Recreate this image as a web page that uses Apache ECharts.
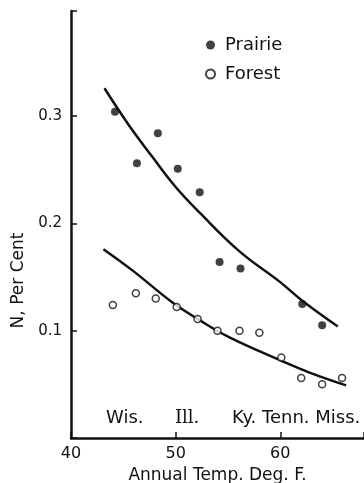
<!DOCTYPE html>
<html><head><meta charset="utf-8">
<script src="https://cdn.jsdelivr.net/npm/echarts@6/dist/echarts.min.js"></script>
<style>html,body{margin:0;padding:0;background:#fff}#c{width:364px;height:483px}</style>
</head><body><div id="c"></div>
<script>
// Data
const prairieTemp = [44.2, 46.3, 48.3, 50.2, 52.3, 54.2, 56.2, 62.1, 64.0];
const prairieN    = [0.304, 0.256, 0.284, 0.251, 0.229, 0.164, 0.158, 0.125, 0.105];
const forestTemp  = [44.0, 46.2, 48.1, 50.1, 52.1, 54.0, 56.1, 58.0, 60.1, 62.0, 64.0, 65.9];
const forestN     = [0.124, 0.135, 0.130, 0.122, 0.111, 0.100, 0.100, 0.098, 0.075, 0.056, 0.050, 0.056];
// Fitted curves as drawn
const prairieCurveT = [43.2, 45.5, 47.7, 50.0, 52.3, 56.1, 59.9, 62.1, 65.5];
const prairieCurveN = [0.326, 0.292, 0.263, 0.234, 0.210, 0.174, 0.146, 0.128, 0.104];
const forestCurveT  = [43.1, 45.9, 49.6, 52.1, 55.1, 60.1, 62.8, 66.3];
const forestCurveN  = [0.176, 0.156, 0.127, 0.111, 0.094, 0.072, 0.061, 0.049];
const xTicks = [40, 50, 60];
const yTicks = [0.1, 0.2, 0.3];
const stateLabels = ['Wis.', 'Ill.', 'Ky. Tenn. Miss.'];

const zip = (a, b) => a.map((v, i) => [v, b[i]]);
const FONT = 'DejaVu Sans';
const INK = '#111';

const chart = echarts.init(document.getElementById('c'), null, {renderer: 'canvas'});
chart.setOption({
  animation: false,
  backgroundColor: '#fff',
  grid: {left: 71, right: 0, top: 11, bottom: 45, containLabel: false, outerBoundsMode: 'none'},
  xAxis: {
    type: 'value', min: 40, max: 68, interval: 10,
    axisLine: {show: true, lineStyle: {color: INK, width: 2.5}},
    axisTick: {show: true, inside: true, length: 6, lineStyle: {color: INK, width: 1.5}},
    axisLabel: {customValues: xTicks, color: INK, fontFamily: FONT, fontSize: 16, margin: 8},
    splitLine: {show: false},
    name: 'Annual Temp. Deg. F.', nameLocation: 'middle', nameGap: 25,
    nameTextStyle: {color: INK, fontFamily: FONT, fontSize: 17}
  },
  yAxis: {
    type: 'value', min: 0, max: 0.398, interval: 0.1,
    axisLine: {show: true, lineStyle: {color: INK, width: 2.5}},
    axisTick: {show: true, inside: true, length: 6, lineStyle: {color: INK, width: 1.5}},
    axisLabel: {customValues: yTicks, color: INK, fontFamily: FONT, fontSize: 15, margin: 9,
      formatter: v => v.toFixed(1)},
    splitLine: {show: false},
    name: 'N, Per Cent', nameLocation: 'middle', nameGap: 42, nameRotate: 90,
    nameTextStyle: {color: INK, fontFamily: FONT, fontSize: 17, padding: [0, 0, 0, -112]}
  },
  legend: {
    data: ['Prairie', 'Forest'], orient: 'vertical', left: 200, top: 31, itemGap: 11,
    itemWidth: 9, itemHeight: 9, icon: 'circle',
    textStyle: {color: INK, fontFamily: FONT, fontSize: 18, padding: [0, 0, 0, 5]}
  },
  series: [
    {name: 'Prairie curve', type: 'line', data: zip(prairieCurveT, prairieCurveN), smooth: 0.4,
      showSymbol: false, lineStyle: {color: INK, width: 2.5}, z: 2},
    {name: 'Forest curve', type: 'line', data: zip(forestCurveT, forestCurveN), smooth: 0.4,
      showSymbol: false, lineStyle: {color: INK, width: 2.5}, z: 2},
    {name: 'Prairie', type: 'scatter', data: zip(prairieTemp, prairieN), symbol: 'circle', symbolSize: 8,
      itemStyle: {color: INK}, z: 3},
    {name: 'Forest', type: 'scatter', data: zip(forestTemp, forestN), symbol: 'circle', symbolSize: 7,
      itemStyle: {color: '#fff', borderColor: INK, borderWidth: 1.5}, z: 3}
  ],
  graphic: [
    {type: 'text', left: 106, top: 409, style: {text: stateLabels[0], font: '18px "DejaVu Sans"', fill: INK}},
    {type: 'text', left: 175, top: 409, style: {text: stateLabels[1], font: '18px "DejaVu Serif"', fill: INK}},
    {type: 'text', left: 232, top: 409, style: {text: stateLabels[2], font: '18px "DejaVu Sans"', fill: INK}}
  ]
});
</script></body></html>
